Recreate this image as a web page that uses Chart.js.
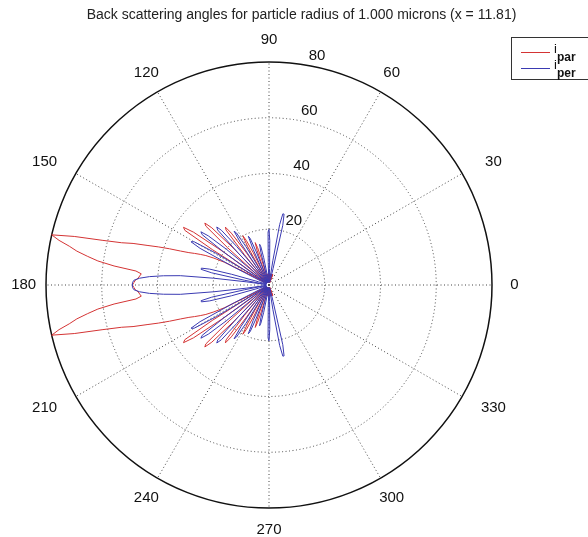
<!DOCTYPE html>
<html>
<head>
<meta charset="utf-8">
<script src="https://cdn.jsdelivr.net/npm/chart.js@4.4.0/dist/chart.umd.min.js"></script>
<style>
  html, body { margin: 0; padding: 0; background: #fff; }
  canvas { display: block; }
</style>
</head>
<body>
<canvas id="polarChart" width="588" height="537"></canvas>
<script>
const titleText = 'Back scattering angles for particle radius of 1.000 microns (x = 11.81)';
const angleTicks = [0, 30, 60, 90, 120, 150, 180, 210, 240, 270, 300, 330];
const radialTicks = [20, 40, 60, 80];
const rMax = 80;

// the lower half (180..290) is its mirror image
const firstAngle = 70;
const iPar = [
  4, 1, 4, 1, 4, 1, 4, 1, 4, 1,          // 70
  4, 1, 4, 1, 4, 1, 4, 1, 4, 1,          // 80
  4, 1, 4, 1, 4, 1, 4, 1, 4, 1,          // 90
  4, 1, 3, 1, 1, 4, 10, 14, 16, 13,      // 100
  5, 1, 1, 1, 1, 5, 13, 18, 20, 16,      // 110
  5, 1, 1, 1, 4, 14, 23, 26, 25, 14,     // 120
  4, 1, 1, 4, 18, 29, 32, 31, 20, 5,     // 130
  1, 1, 1, 6, 20, 33, 37, 36, 24, 7,     // 140
  2, 4, 10, 18, 22, 25, 27, 29, 31, 34,  // 150
  38, 42, 46, 51, 55, 62, 72, 80, 77, 73, // 160
  70, 66, 62, 56, 48, 46, 46.5, 47, 48, 48.5, // 170
  49                                     // 180
];
const iPer = [
  1, 1, 1, 1, 1, 1, 6, 22, 26, 26,      // 70
  22, 9, 1, 1, 1, 1, 1, 1, 6, 16,       // 80
  20, 19, 8, 1, 1, 1, 1, 1, 1, 1,       // 90
  4, 10, 14, 15, 12, 3, 1, 1, 1, 1,     // 100
  5, 13, 18, 19, 14, 4, 1, 1, 1, 1,     // 110
  6, 16, 22, 23, 18, 5, 1, 1, 1, 6,     // 120
  18, 26, 28, 27, 16, 3, 1, 1, 1, 6,    // 130
  20, 28, 31, 30, 20, 5, 1, 1, 6, 22,   // 140
  31, 32, 28, 14, 3, 1, 1, 1, 1, 1,     // 150
  1, 1, 1, 4, 14, 22, 25, 25, 21, 9,    // 160
  2, 1, 8, 20, 32, 38, 43, 46.5, 48.5, 49, // 170
  49                                    // 180
];

const parColor = 'rgb(212, 52, 52)';
const perColor = 'rgb(58, 58, 178)';

// index i sits at angle (360 - i): with startAngle 90 this runs counter-clockwise from 3 o'clock
const labels = Array.from({ length: 360 }, (_, i) => (360 - i) % 360);

function toSeries(values) {
  return labels.map(a => {
    const k = (a <= 180 ? a : 360 - a) - firstAngle;
    return k >= 0 && k < values.length ? values[k] : null;
  });
}

const polarText = {
  id: 'polarText',
  afterDraw(chart) {
    const ctx = chart.ctx;
    const r = chart.scales.r;
    ctx.save();
    ctx.fillStyle = '#111';

    // angle labels at 1.1 * rmax
    ctx.font = '15px "Liberation Sans", Arial, sans-serif';
    ctx.textAlign = 'center';
    ctx.textBaseline = 'middle';
    angleTicks.forEach(a => {
      const p = r.getPointPosition((360 - a) % 360, r.getDistanceFromCenterForValue(rMax * 1.1));
      const dx = (a % 180 === 30 || a % 180 === 150) ? Math.sign(p.x - r.xCenter) * 12 : 0;
      ctx.fillText(String(a), p.x + dx, p.y);
    });

    // radius labels along 82 degrees
    ctx.textAlign = 'left';
    radialTicks.forEach(v => {
      const p = r.getPointPosition(360 - 82, r.getDistanceFromCenterForValue(v + 1));
      ctx.fillText('  ' + v, p.x, p.y - 6);
    });

    // title
    ctx.font = '14px "Liberation Sans", Arial, sans-serif';
    ctx.textAlign = 'center';
    ctx.textBaseline = 'alphabetic';
    ctx.fillStyle = '#222';
    ctx.fillText(titleText, 301.5, 19);

    // legend box
    ctx.strokeStyle = '#333';
    ctx.lineWidth = 1;
    ctx.strokeRect(511.5, 37.5, 80, 42);
    [['par', parColor, 52.5], ['per', perColor, 68.5]].forEach(([sub, color, y]) => {
      ctx.strokeStyle = color;
      ctx.beginPath();
      ctx.moveTo(521, y);
      ctx.lineTo(550, y);
      ctx.stroke();
      ctx.fillStyle = '#111';
      ctx.textAlign = 'left';
      ctx.font = '13px "Liberation Sans", Arial, sans-serif';
      ctx.fillText('i', 554, y);
      ctx.font = 'bold 12px "Liberation Sans", Arial, sans-serif';
      ctx.fillText(sub, 557, y + 8);
    });
    ctx.restore();
  }
};

new Chart(document.getElementById('polarChart'), {
  type: 'radar',
  data: {
    labels: labels,
    datasets: [
      { label: 'i_per', data: toSeries(iPer), borderColor: perColor },
      { label: 'i_par', data: toSeries(iPar), borderColor: parColor }
    ]
  },
  options: {
    responsive: false,
    animation: false,
    events: [],
    layout: { padding: { left: 46, right: 95, top: 62, bottom: 29 } },
    elements: {
      line: { borderWidth: 1, tension: 0, fill: false },
      point: { radius: 0, hitRadius: 0 }
    },
    plugins: {
      legend: { display: false },
      title: { display: false },
      tooltip: { enabled: false }
    },
    scales: {
      r: {
        min: 0,
        max: rMax,
        startAngle: 90,
        ticks: { display: false, stepSize: 20 },
        pointLabels: { display: false },
        grid: {
          circular: true,
          color: ctx => ctx.tick.value === rMax ? '#111' : '#444',
          lineWidth: ctx => ctx.tick.value === rMax ? 1.5 : 1
        },
        border: {
          dash: ctx => ctx.tick && ctx.tick.value === rMax ? [] : [1, 2.5]
        },
        angleLines: {
          color: ctx => ctx.index % 30 === 0 ? '#444' : 'rgba(0,0,0,0)',
          lineWidth: ctx => ctx.index % 30 === 0 ? 1 : 0,
          borderDash: [1, 2.5]
        }
      }
    }
  },
  plugins: [polarText]
});
</script>
</body>
</html>
